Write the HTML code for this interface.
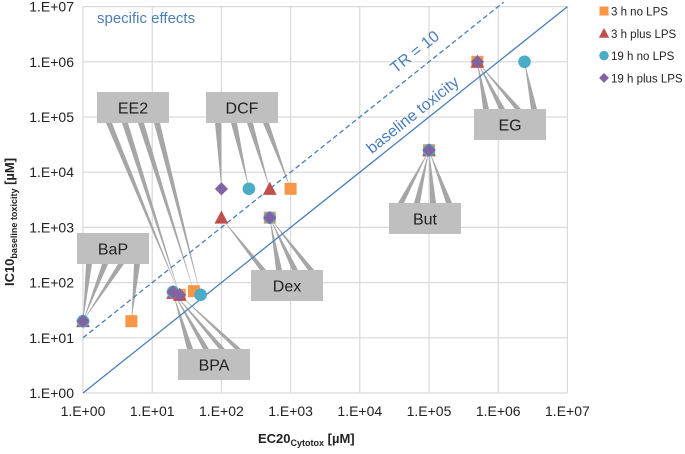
<!DOCTYPE html>
<html><head><meta charset="utf-8"><style>
body{margin:0;background:#fff;font-family:"Liberation Sans",sans-serif}
svg text{font-family:"Liberation Sans",sans-serif}
</style></head><body>
<svg id="chart" width="685" height="449" viewBox="0 0 685 449" xmlns="http://www.w3.org/2000/svg">
<g id="grid"></g><g id="leaders"></g><g id="lines"></g><g id="boxes"></g><g id="marks"></g><g id="axes"></g>
</svg>
<script>
const xTicks=[0,1,2,3,4,5,6,7];
const yTicks=[0,1,2,3,4,5,6,7];
const tickLabels=["1.E+00","1.E+01","1.E+02","1.E+03","1.E+04","1.E+05","1.E+06","1.E+07"];
const seriesNames=["3 h no LPS","3 h plus LPS","19 h no LPS","19 h plus LPS"];
const seriesColors=["#f79646","#c0504d","#4bacc6","#8064a2"];
const seriesShapes=["square","triangle","circle","diamond"];
const compounds=["BaP","EE2","BPA","DCF","Dex","But","EG"];
const xs3noLPS=[5,25,40,1000,500,100000,500000];
const ys3noLPS=[20,60,70,5000,1500,25000,1000000];
const xs3plusLPS=[1,20,25,500,100,100000,500000];
const ys3plusLPS=[20,65,60,5000,1500,25000,1000000];
const xs19noLPS=[1,20,50,250,500,100000,2400000];
const ys19noLPS=[20,68,60,5000,1500,25000,1000000];
const xs19plusLPS=[1,20,25,100,500,100000,500000];
const ys19plusLPS=[20,68,60,5000,1500,25000,1000000];
const labelNames=["EE2","DCF","BaP","BPA","Dex","But","EG"];
const labelBoxX=[97,206,77,178,251,389,474];
const labelBoxY=[92,92,233,349,270,203,109];

const NS="http://www.w3.org/2000/svg";
const X0=83,XD=69.2,Y0=393,YD=55.2;
const sx=v=>X0+Math.log10(v)*XD, sy=v=>Y0-Math.log10(v)*YD;
const sxe=e=>X0+e*XD, sye=e=>Y0-e*YD;
function mk(p,tag,attrs){const e=document.createElementNS(NS,tag);for(const k in attrs)e.setAttribute(k,attrs[k]);document.getElementById(p).appendChild(e);return e;}
xTicks.forEach((t,i)=>{
 const l=mk("grid","line",{x1:sxe(t),x2:sxe(t),y1:sye(7),y2:sye(0),stroke:"#d9d9d9","stroke-width":1.2});
 
 
 const tx=mk("axes","text",{x:sxe(t),y:416,"font-size":14,"text-anchor":"middle",fill:"#222"});tx.textContent=tickLabels[i];
 
 
});
yTicks.forEach((t,i)=>{
 const l=mk("grid","line",{x1:sxe(0),x2:sxe(7),y1:sye(t),y2:sye(t),stroke:"#d9d9d9","stroke-width":1.2});
 
 
 const tx=mk("axes","text",{x:74,y:sye(t)+5,"font-size":14,"text-anchor":"end",fill:"#222"});tx.textContent=tickLabels[i];
 
 
});
let bl=mk("lines","line",{x1:sx(1),y1:sy(1),x2:sx(1e7),y2:sy(1e7),stroke:"#4a7ebb","stroke-width":1.3});


let tr=mk("lines","line",{x1:sx(1),y1:sy(10),x2:sx(1.2e6),y2:sy(1.2e7),stroke:"#4a7ebb","stroke-width":1.3,"stroke-dasharray":"5,3"});


const ang=-Math.atan(YD/XD)*180/Math.PI;
let t1=mk("lines","text",{x:418,y:56,"font-size":16,fill:"#4a7ebb","text-anchor":"middle",transform:`rotate(${ang} 418 56)`});t1.textContent="TR = 10";


let t2=mk("lines","text",{x:416,y:119,"font-size":16,fill:"#4a7ebb","text-anchor":"middle",transform:`rotate(${ang} 416 119)`});t2.textContent="baseline toxicity";


let t3=mk("lines","text",{x:97,y:23,"font-size":15,fill:"#4a7ebb"});t3.textContent="specific effects";


const SX=[xs3noLPS,xs3plusLPS,xs19noLPS,xs19plusLPS], SY=[ys3noLPS,ys3plusLPS,ys19noLPS,ys19plusLPS];
const labelComp={EE2:1,DCF:3,BaP:0,BPA:2,Dex:4,But:5,EG:6};
labelNames.forEach((n,i)=>{
 const bx=labelBoxX[i],by=labelBoxY[i],w=72,h=31;
 const ci=labelComp[n];
 const below=by>sy(SY[0][ci]);
 const edgeY=below?by:by+h;
 let pts=[];
 for(let s=0;s<SX.length;s++){
  let c=ci;
  if(n==="BPA")c=1;
  if(n==="EE2")c=2;
  pts.push([sx(SX[s][c]),sy(SY[s][c])]);
 }
 pts.sort((a,b)=>a[0]-b[0]);
 const k=pts.length;
 pts.forEach((p0,s)=>{
  const ex=bx+12+s*(w-24)/(k-1);
  const p=mk("leaders","polygon",{points:`${ex-3},${edgeY} ${ex+3},${edgeY} ${p0[0]},${p0[1]}`,fill:"#a6a6a6"});
  
  
 });
 const r=mk("boxes","rect",{x:bx,y:by,width:w,height:h,fill:"#bfbfbf"});
 
 
 const t=mk("boxes","text",{x:bx+w/2,y:by+h/2+6,"font-size":16,"text-anchor":"middle",fill:"#222"});t.textContent=n;
 
 
});
function shape(g,type,cx,cy,r,c){
 let e;
 if(type==="square")e=mk(g,"rect",{x:cx-r,y:cy-r,width:2*r,height:2*r,fill:c});
 else if(type==="triangle")e=mk(g,"polygon",{points:`${cx},${cy-r*1.2} ${cx+r*1.15},${cy+r} ${cx-r*1.15},${cy+r}`,fill:c});
 else if(type==="circle")e=mk(g,"circle",{cx,cy,r:r*1.05,fill:c});
 else e=mk(g,"polygon",{points:`${cx},${cy-r*1.1} ${cx+r*1.1},${cy} ${cx},${cy+r*1.1} ${cx-r*1.1},${cy}`,fill:c});
 return e;
}
SX.forEach((arr,s)=>{
 arr.forEach((v,i)=>{
  const e=shape("marks",seriesShapes[s],sx(v),sy(SY[s][i]),6,seriesColors[s]);
  
  
 });
 const ly=11+s*22.3;
 const le=shape("axes",seriesShapes[s],604,ly,4.5,seriesColors[s]);
 
 
 const lt=mk("axes","text",{x:611,y:ly+4.5,"font-size":11.5,fill:"#222"});lt.textContent=seriesNames[s];
 
 
});
let xt=mk("axes","text",{x:258,y:443,"font-size":13,"font-weight":"bold",fill:"#222"});
xt.innerHTML='EC20<tspan font-size="9" dy="3">Cytotox</tspan><tspan dy="-3"> [µM]</tspan>';


let yt=mk("axes","text",{x:0,y:0,"font-size":13,"font-weight":"bold",fill:"#222","text-anchor":"middle",transform:"translate(14,222) rotate(-90)"});
yt.innerHTML='IC10<tspan font-size="9" dy="3">baseline toxicity</tspan><tspan dy="-3"> [µM]</tspan>';


</script>
</body></html>
